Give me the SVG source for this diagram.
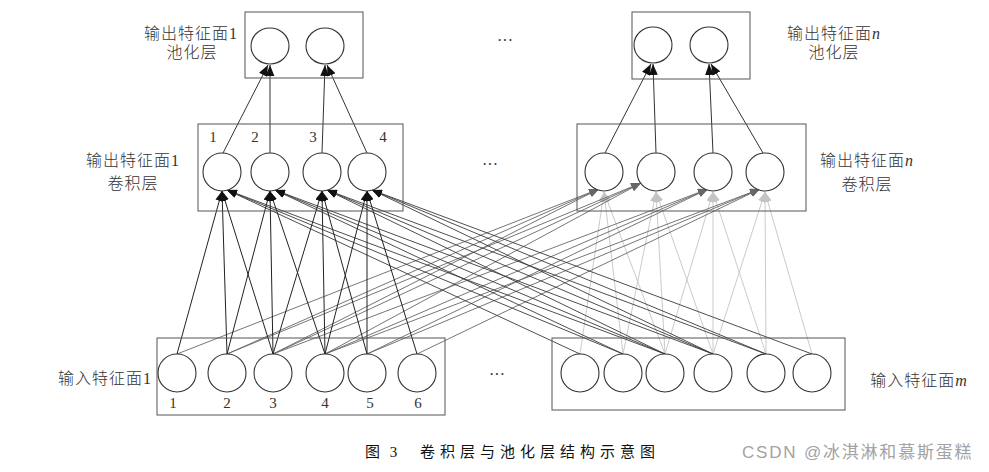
<svg xmlns="http://www.w3.org/2000/svg" width="989" height="472" viewBox="0 0 989 472">
<defs>
<style>
.box{fill:none;stroke:#555;stroke-width:1}
.nd{fill:#fff;stroke:#333;stroke-width:1.1}
.lbl{font-family:"Liberation Serif","Noto Sans CJK SC",serif;font-size:16px;fill:#333;letter-spacing:1px;text-anchor:middle;font-weight:300}
.num{font-family:"Liberation Serif",serif;font-size:15px;fill:#333;text-anchor:middle}
.dots{font-family:"Liberation Serif",serif;font-size:16px;fill:#333;text-anchor:middle}
.cap{font-family:"Liberation Serif","Noto Sans CJK SC",serif;font-size:15px;fill:#111}
.wm{font-family:"Liberation Sans","Noto Sans CJK SC",sans-serif;font-size:17px;fill:#a3a3a3;letter-spacing:1.8px}
.ca{stroke:#222;stroke-width:1;fill:none;marker-end:url(#ak)}
.cb{stroke:#3a3a3a;stroke-width:0.9;fill:none;marker-end:url(#ak)}
.cc{stroke:#666;stroke-width:0.9;fill:none;marker-end:url(#am)}
.cd{stroke:#c4c4c4;stroke-width:0.9;fill:none;marker-end:url(#al)}
.cp{stroke:#333;stroke-width:1;fill:none;marker-end:url(#ap)}
</style>
<marker id="ak" viewBox="0 0 10 8" refX="10" refY="4" markerWidth="10" markerHeight="8" markerUnits="userSpaceOnUse" orient="auto"><path d="M0,0 L10,4 L0,8 z" fill="#111"/></marker>
<marker id="am" viewBox="0 0 10 8" refX="10" refY="4" markerWidth="10" markerHeight="8" markerUnits="userSpaceOnUse" orient="auto"><path d="M0,0 L10,4 L0,8 z" fill="#666"/></marker>
<marker id="al" viewBox="0 0 10 8" refX="10" refY="4" markerWidth="10" markerHeight="8" markerUnits="userSpaceOnUse" orient="auto"><path d="M0,0 L10,4 L0,8 z" fill="#c4c4c4"/></marker>
<marker id="ap" viewBox="0 0 10 8" refX="10" refY="4" markerWidth="11" markerHeight="9" markerUnits="userSpaceOnUse" orient="auto"><path d="M0,0 L10,4 L0,8 z" fill="#111"/></marker>
</defs>
<rect x="0" y="0" width="989" height="472" fill="#fff"/>

<g id="connectors">
<!-- conv -> pool -->
<line class="cp" x1="223" y1="153" x2="268" y2="65"/>
<line class="cp" x1="270" y1="153" x2="270" y2="65"/>
<line class="cp" x1="322" y1="153" x2="325" y2="65"/>
<line class="cp" x1="367" y1="153" x2="327" y2="65"/>
<line class="cp" x1="605" y1="153" x2="651" y2="64"/>
<line class="cp" x1="656" y1="153" x2="653" y2="64"/>
<line class="cp" x1="713" y1="153" x2="709" y2="64"/>
<line class="cp" x1="763" y1="153" x2="711" y2="64"/>
<!-- light: input m -> conv n -->
<line class="cd" x1="580" y1="354" x2="604" y2="192"/>
<line class="cd" x1="623" y1="354" x2="604" y2="192"/>
<line class="cd" x1="665" y1="354" x2="604" y2="192"/>
<line class="cd" x1="623" y1="354" x2="656" y2="192"/>
<line class="cd" x1="665" y1="354" x2="656" y2="192"/>
<line class="cd" x1="713" y1="354" x2="656" y2="192"/>
<line class="cd" x1="665" y1="354" x2="713" y2="192"/>
<line class="cd" x1="713" y1="354" x2="713" y2="192"/>
<line class="cd" x1="766" y1="354" x2="713" y2="192"/>
<line class="cd" x1="713" y1="354" x2="765" y2="192"/>
<line class="cd" x1="766" y1="354" x2="765" y2="192"/>
<line class="cd" x1="812" y1="354" x2="765" y2="192"/>
<!-- mid gray: input 1 -> conv n -->
<line class="cc" x1="177" y1="354" x2="599" y2="189"/>
<line class="cc" x1="227" y1="354" x2="599" y2="189"/>
<line class="cc" x1="273" y1="354" x2="599" y2="189"/>
<line class="cc" x1="227" y1="354" x2="641" y2="183"/>
<line class="cc" x1="273" y1="354" x2="641" y2="183"/>
<line class="cc" x1="325" y1="354" x2="641" y2="183"/>
<line class="cc" x1="273" y1="354" x2="708" y2="189"/>
<line class="cc" x1="325" y1="354" x2="708" y2="189"/>
<line class="cc" x1="367" y1="354" x2="708" y2="189"/>
<line class="cc" x1="325" y1="354" x2="760" y2="189"/>
<line class="cc" x1="367" y1="354" x2="760" y2="189"/>
<line class="cc" x1="417" y1="354" x2="760" y2="189"/>
<!-- dark: input m -> conv 1 -->
<line class="cb" x1="580" y1="354" x2="227" y2="190"/>
<line class="cb" x1="623" y1="354" x2="227" y2="190"/>
<line class="cb" x1="665" y1="354" x2="227" y2="190"/>
<line class="cb" x1="623" y1="354" x2="275" y2="190"/>
<line class="cb" x1="665" y1="354" x2="275" y2="190"/>
<line class="cb" x1="713" y1="354" x2="275" y2="190"/>
<line class="cb" x1="665" y1="354" x2="327" y2="190"/>
<line class="cb" x1="713" y1="354" x2="327" y2="190"/>
<line class="cb" x1="766" y1="354" x2="327" y2="190"/>
<line class="cb" x1="713" y1="354" x2="372" y2="190"/>
<line class="cb" x1="766" y1="354" x2="372" y2="190"/>
<line class="cb" x1="812" y1="354" x2="372" y2="190"/>
<!-- black: input 1 -> conv 1 -->
<line class="ca" x1="177" y1="354" x2="222" y2="191"/>
<line class="ca" x1="227" y1="354" x2="222" y2="191"/>
<line class="ca" x1="273" y1="354" x2="222" y2="191"/>
<line class="ca" x1="227" y1="354" x2="270" y2="191"/>
<line class="ca" x1="273" y1="354" x2="270" y2="191"/>
<line class="ca" x1="325" y1="354" x2="270" y2="191"/>
<line class="ca" x1="273" y1="354" x2="322" y2="191"/>
<line class="ca" x1="325" y1="354" x2="322" y2="191"/>
<line class="ca" x1="367" y1="354" x2="322" y2="191"/>
<line class="ca" x1="325" y1="354" x2="367" y2="191"/>
<line class="ca" x1="367" y1="354" x2="367" y2="191"/>
<line class="ca" x1="417" y1="354" x2="367" y2="191"/>
</g>

<g id="pool-1">
<rect class="box" x="245" y="12" width="118" height="66"/>
<ellipse class="nd" cx="270" cy="46" rx="19" ry="18"/>
<ellipse class="nd" cx="325" cy="46" rx="19" ry="18"/>
<text class="lbl" x="191" y="39">输出特征面1</text>
<text class="lbl" x="192" y="58">池化层</text>
</g>

<g id="pool-n">
<rect class="box" x="632" y="12" width="118" height="67"/>
<ellipse class="nd" cx="653" cy="45" rx="19" ry="18"/>
<ellipse class="nd" cx="709" cy="45" rx="19" ry="18"/>
<text class="lbl" x="834" y="39">输出特征面<tspan font-style="italic">n</tspan></text>
<text class="lbl" x="834" y="58">池化层</text>
</g>

<g id="conv-1">
<rect class="box" x="198" y="124" width="205" height="87"/>
<ellipse class="nd" cx="222" cy="172" rx="19" ry="19"/>
<ellipse class="nd" cx="270" cy="172" rx="19" ry="19"/>
<ellipse class="nd" cx="322" cy="172" rx="19" ry="19"/>
<ellipse class="nd" cx="367" cy="172" rx="19" ry="19"/>
<text class="num" x="213" y="142">1</text>
<text class="num" x="255" y="142">2</text>
<text class="num" x="313" y="142">3</text>
<text class="num" x="383" y="142">4</text>
<text class="lbl" x="133" y="166">输出特征面1</text>
<text class="lbl" x="133" y="189">卷积层</text>
</g>

<g id="conv-n">
<rect class="box" x="577" y="124" width="229" height="87"/>
<ellipse class="nd" cx="604" cy="172" rx="19" ry="19"/>
<ellipse class="nd" cx="656" cy="172" rx="19" ry="19"/>
<ellipse class="nd" cx="713" cy="172" rx="19" ry="19"/>
<ellipse class="nd" cx="765" cy="172" rx="19" ry="19"/>
<text class="lbl" x="867" y="166">输出特征面<tspan font-style="italic">n</tspan></text>
<text class="lbl" x="867" y="190">卷积层</text>
</g>

<g id="input-1">
<rect class="box" x="157" y="338" width="288" height="77"/>
<ellipse class="nd" cx="177" cy="373" rx="19" ry="19"/>
<ellipse class="nd" cx="227" cy="373" rx="19" ry="19"/>
<ellipse class="nd" cx="273" cy="373" rx="19" ry="19"/>
<ellipse class="nd" cx="325" cy="373" rx="19" ry="19"/>
<ellipse class="nd" cx="367" cy="373" rx="19" ry="19"/>
<ellipse class="nd" cx="417" cy="373" rx="19" ry="19"/>
<text class="num" x="173" y="408">1</text>
<text class="num" x="227" y="408">2</text>
<text class="num" x="273" y="408">3</text>
<text class="num" x="325" y="408">4</text>
<text class="num" x="370" y="408">5</text>
<text class="num" x="418" y="408">6</text>
<text class="lbl" x="105" y="384">输入特征面1</text>
</g>

<g id="input-m">
<rect class="box" x="552" y="338" width="293" height="72"/>
<ellipse class="nd" cx="580" cy="373" rx="19" ry="19"/>
<ellipse class="nd" cx="623" cy="373" rx="19" ry="19"/>
<ellipse class="nd" cx="665" cy="373" rx="19" ry="19"/>
<ellipse class="nd" cx="713" cy="373" rx="19" ry="19"/>
<ellipse class="nd" cx="766" cy="373" rx="19" ry="19"/>
<ellipse class="nd" cx="812" cy="373" rx="19" ry="19"/>
<text class="lbl" x="919" y="386">输入特征面<tspan font-style="italic">m</tspan></text>
</g>

<text class="dots" x="505" y="46">···</text>
<text class="dots" x="490" y="170">···</text>
<text class="dots" x="497" y="380">···</text>

<text class="cap" x="365" y="457" letter-spacing="3">图 3</text>
<text class="cap" x="420" y="457" letter-spacing="5">卷积层与池化层结构示意图</text>
<text class="wm" x="742" y="458">CSDN @冰淇淋和慕斯蛋糕</text>
</svg>
